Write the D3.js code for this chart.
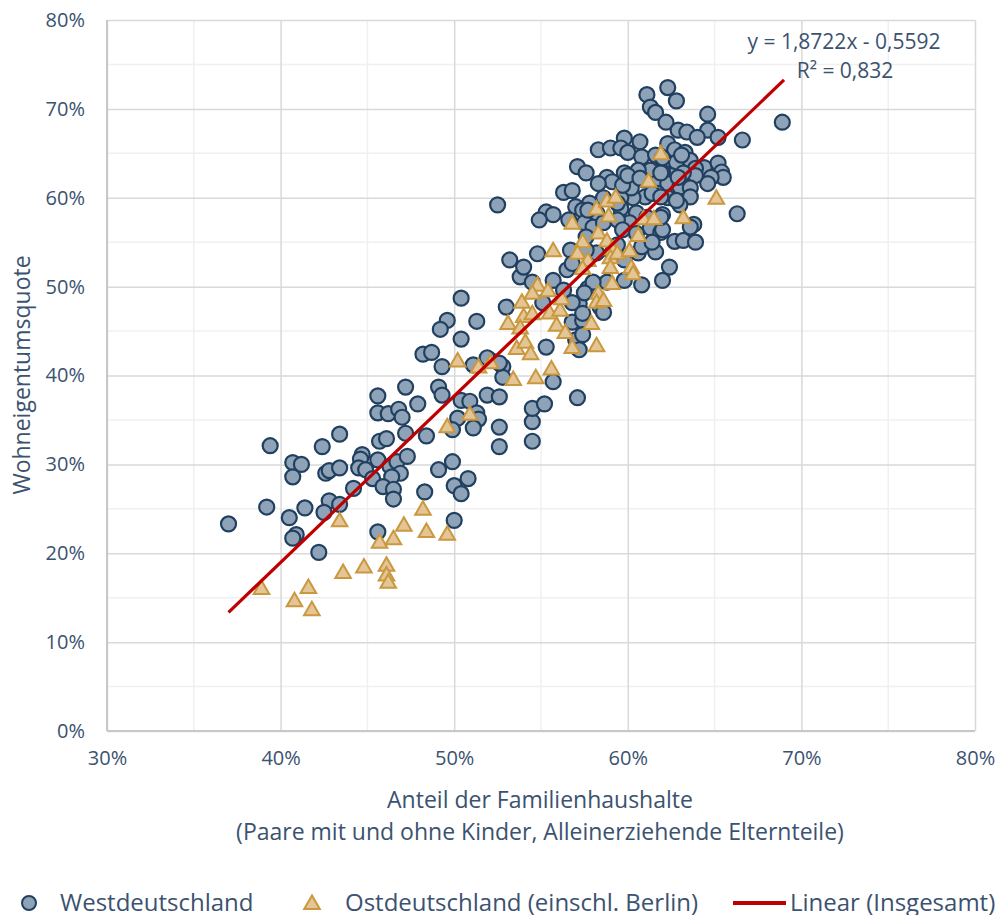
<!DOCTYPE html>
<html><head><meta charset="utf-8">
<script src="https://cdn.jsdelivr.net/npm/d3@7"></script>
<style>
html,body{margin:0;padding:0;background:#fff;}
svg text{font-family:"Open Sans",sans-serif;fill:#3b5270;}
</style></head>
<body>
<svg id="chart" width="995" height="915"></svg>
<script>
// Westdeutschland: [Anteil Familienhaushalte %, Wohneigentumsquote %]
const westPoints = [
[37.0,23.3],[39.2,25.2],[39.4,32.1],[40.7,30.2],[41.2,30.0],[40.7,28.6],[42.4,32.0],[43.4,33.4],[42.6,29.0],[42.8,29.3],
[43.4,29.6],[44.2,27.3],[42.8,25.9],[43.4,25.5],[41.4,25.1],[42.5,24.6],[40.5,24.0],[40.9,22.1],[40.7,21.7],[42.2,20.1],
[45.6,37.7],[47.2,38.7],[47.9,36.8],[45.6,35.8],[46.2,35.7],[46.8,36.2],[47.0,35.3],[45.7,32.6],[46.1,32.9],[47.2,33.5],
[48.4,33.2],[44.7,31.1],[44.6,30.6],[45.6,30.5],[44.5,29.6],[44.9,29.4],[46.3,29.8],[46.7,30.3],[47.3,30.9],[46.9,29.0],
[46.4,28.6],[45.3,28.4],[45.9,27.5],[46.5,27.2],[46.5,26.1],[48.3,26.9],[49.1,38.7],[49.3,37.8],[50.4,37.2],[50.9,37.1],
[51.9,37.8],[50.2,35.2],[51.3,35.8],[51.4,35.1],[51.1,34.1],[49.9,33.9],[49.9,30.3],[49.1,29.4],[50.0,27.6],[50.8,28.4],
[50.4,26.7],[50.0,23.7],[45.6,22.4],[52.6,34.2],[52.6,32.0],[50.4,48.7],[49.6,46.2],[49.2,45.2],[51.3,46.1],[50.4,44.1],
[48.2,42.4],[48.7,42.6],[49.3,41.0],[51.1,41.2],[52.1,41.7],[52.8,41.0],[52.8,39.8],[52.6,37.6],[54.5,32.6],[54.5,34.8],
[54.5,36.3],[55.2,36.8],[57.1,37.5],[55.7,39.3],[55.3,43.2],[57.1,43.1],[57.0,44.0],[53.0,47.7],[53.8,51.1],[54.0,52.2],
[54.5,50.5],[55.7,50.7],[56.5,51.9],[57.2,48.1],[56.8,46.0],[57.4,46.2],[53.2,53.0],[52.5,59.2],[57.1,63.5],[56.3,60.6],
[56.8,60.8],[57.0,59.0],[55.3,58.4],[55.7,58.1],[54.9,57.5],[56.6,57.5],[54.8,53.7],[56.7,54.1],[56.3,49.6],[55.1,48.2],
[56.8,48.2],[57.4,47.0],[57.4,44.6],[57.2,42.9],[58.4,47.7],[51.9,42.0],[52.6,41.4],[57.7,49.8],[58.6,47.1],
[62.3,72.4],[61.1,71.6],[62.8,70.9],[61.3,70.2],[61.6,69.6],[64.6,69.4],[62.2,68.5],[68.9,68.5],[62.9,67.6],[63.4,67.4],
[64.6,67.6],[59.8,66.7],[60.7,66.3],[64.0,66.8],[65.2,66.8],[66.6,66.5],[58.3,65.4],[59.0,65.6],[59.6,65.6],[60.0,65.1],
[60.8,64.6],[62.3,66.1],[62.7,65.4],[63.3,65.1],[61.6,64.8],[62.1,63.9],[62.8,64.0],[63.6,64.2],[64.4,63.4],[63.9,63.3],
[65.2,63.9],[65.4,62.9],[65.5,62.3],[64.8,62.3],[64.6,61.6],[63.9,62.5],[63.2,62.8],[62.5,62.5],[62.0,62.9],[61.3,63.1],
[60.6,63.1],[59.8,62.8],[58.8,62.3],[57.6,62.8],[59.1,61.8],[60.1,61.2],[60.9,62.0],[61.6,61.6],[62.3,61.6],[63.0,61.2],
[63.6,61.1],[63.6,60.1],[63.0,59.2],[62.3,60.0],[61.7,60.5],[61.0,60.1],[60.3,60.0],[59.6,60.0],[58.6,60.0],[57.8,59.4],
[57.4,58.6],[58.2,58.3],[59.6,58.8],[60.5,58.3],[61.1,57.8],[62.0,58.1],[63.8,57.0],[66.3,58.2],[57.5,57.2],[58.0,56.7],
[60.1,57.2],[61.3,56.6],[61.9,56.1],[62.7,55.1],[63.2,55.2],[63.9,55.0],[61.6,53.9],[60.6,53.8],[59.8,53.0],[59.1,53.8],
[58.2,53.8],[57.6,54.1],[62.4,52.2],[62.0,50.7],[60.8,50.2],[59.8,50.7],[58.8,50.5],[58.0,50.5],[57.5,49.3],[63.6,56.7],
[58.6,57.2],[59.4,57.5],[59.7,56.4],[60.5,56.0],[62.0,56.4],[61.9,57.8],[59.4,54.7],[60.8,54.5],[61.4,55.0],[57.6,55.6],
[56.8,52.6],[60.2,61.1],[61.4,60.5],[61.9,60.1],[62.8,59.7],[59.4,59.4],[57.7,58.6],[59.7,61.4],[58.3,61.6],[60.0,62.5],
[60.7,62.2],[61.9,62.8],[62.9,62.3],[62.0,64.5],[63.1,64.8]
];
// Ostdeutschland (einschl. Berlin)
const eastPoints = [
[38.9,16.1],[40.8,14.7],[41.6,16.2],[41.8,13.7],[43.4,23.7],[43.6,17.9],[44.8,18.5],[45.7,21.3],[46.5,21.7],[46.1,18.7],
[46.1,17.6],[46.2,16.8],[47.1,23.2],[48.2,25.0],[48.4,22.5],[49.6,22.2],[49.6,34.3],[50.9,35.7],[50.2,41.7],[51.4,41.0],
[52.1,41.5],[53.4,39.6],[54.7,39.8],[55.6,40.8],[53.1,45.9],[53.9,48.3],[54.0,46.7],[54.5,47.0],[53.8,45.4],[53.6,43.1],
[54.1,43.8],[54.4,42.5],[54.8,50.2],[55.4,49.6],[54.5,49.3],[55.5,47.1],[56.1,47.4],[56.2,48.7],[55.9,45.7],[56.4,44.9],
[56.8,43.2],[57.9,45.9],[58.2,43.4],[55.7,54.1],[56.8,57.2],[57.4,55.1],[57.1,53.8],[57.7,53.0],[57.4,52.1],[58.2,58.8],
[58.8,59.7],[59.3,60.1],[58.9,58.0],[58.3,56.1],[58.8,55.2],[59.1,54.3],[59.0,53.3],[59.4,53.8],[60.1,54.1],[59.0,52.2],
[60.2,52.2],[60.3,51.5],[60.6,55.8],[60.9,57.7],[61.5,57.7],[61.2,61.9],[61.9,65.0],[59.1,50.4],[58.3,49.3],[58.2,48.3],
[58.6,48.5],[63.2,57.8],[65.1,60.0]
];
// Lineare Trendlinie (Insgesamt)
const trendSlope = 1.8722, trendIntercept = -0.5592, trendR2 = 0.832;
const trendRange = [0.37, 0.69];
const xTicks = [0.3,0.4,0.5,0.6,0.7,0.8];
const yTicks = [0,0.1,0.2,0.3,0.4,0.5,0.6,0.7,0.8];
const xMinor = [0.35,0.45,0.55,0.65,0.75];
const yMinor = [0.05,0.15,0.25,0.35,0.45,0.55,0.65,0.75];
const xTitle = ["Anteil der Familienhaushalte","(Paare mit und ohne Kinder, Alleinerziehende Elternteile)"];
const yTitle = "Wohneigentumsquote";
const legendLabels = ["Westdeutschland","Ostdeutschland (einschl. Berlin)","Linear (Insgesamt)"];

const svg = d3.select("#chart");
const L=107, R=975, T=20, B=731;
const x = d3.scaleLinear().domain([0.3,0.8]).range([L,R]);
const y = d3.scaleLinear().domain([0,0.8]).range([B,T]);
const pct = d3.format(".0%");
const comma = s => s.replace(".",",");

// minor grid
svg.append("g").selectAll("line").data(xMinor).join("line")
  .attr("x1",d=>x(d)).attr("x2",d=>x(d)).attr("y1",T).attr("y2",B)
  .attr("stroke","#f0f0f0").attr("stroke-width",1.5);
svg.append("g").selectAll("line").data(yMinor).join("line")
  .attr("y1",d=>y(d)).attr("y2",d=>y(d)).attr("x1",L).attr("x2",R)
  .attr("stroke","#f0f0f0").attr("stroke-width",1.5);

// major grid via axes
const gx = svg.append("g").attr("transform",`translate(0,${B})`)
  .call(d3.axisBottom(x).tickValues(xTicks).tickFormat(pct).tickSize(-(B-T)).tickPadding(20));
const gy = svg.append("g").attr("transform",`translate(${L},0)`)
  .call(d3.axisLeft(y).tickValues(yTicks).tickFormat(pct).tickSize(-(R-L)).tickPadding(22));
[gx,gy].forEach(g=>{
  g.select(".domain").remove();
  g.selectAll(".tick line").attr("stroke","#d9d9d9").attr("stroke-width",1.5);
  g.selectAll(".tick text").style("font-size","20px").attr("fill","#3b5270");
});
gx.selectAll(".tick text").attr("dy","0.71em");
// axis lines
svg.append("line").attr("x1",L).attr("x2",L).attr("y1",T).attr("y2",B).attr("stroke","#c8c8c8").attr("stroke-width",2);
svg.append("line").attr("x1",L).attr("x2",R).attr("y1",B).attr("y2",B).attr("stroke","#c8c8c8").attr("stroke-width",2);

// West circles
svg.append("g").selectAll("circle").data(westPoints).join("circle")
  .attr("cx",d=>x(d[0]/100)).attr("cy",d=>y(d[1]/100)).attr("r",7.5)
  .attr("fill","#8ea3b8").attr("stroke","#213f5f").attr("stroke-width",2.2);

// East triangles
const tri = d3.symbol().type(d3.symbolTriangle).size(105);
svg.append("g").selectAll("path").data(eastPoints).join("path")
  .attr("d",tri).attr("transform",d=>`translate(${x(d[0]/100)},${y(d[1]/100)+1.5})`)
  .attr("fill","#e4c596").attr("stroke","#c9983f").attr("stroke-width",2);

// Trendline
svg.append("line")
  .attr("x1",x(trendRange[0])).attr("y1",y(trendSlope*trendRange[0]+trendIntercept))
  .attr("x2",x(trendRange[1])).attr("y2",y(trendSlope*trendRange[1]+trendIntercept))
  .attr("stroke","#c00000").attr("stroke-width",3.2);

// Equation
svg.append("text").attr("x",844).attr("y",49).attr("text-anchor","middle").style("font-size","21px")
  .text(`y = ${comma(trendSlope.toFixed(4))}x - ${comma(Math.abs(trendIntercept).toFixed(4))}`);
svg.append("text").attr("x",845).attr("y",78).attr("text-anchor","middle").style("font-size","21px")
  .text(`R² = ${comma(trendR2.toFixed(3))}`);

// Axis titles
svg.append("text").attr("x",540).attr("y",808).attr("text-anchor","middle").style("font-size","23px").text(xTitle[0]);
svg.append("text").attr("x",540).attr("y",840).attr("text-anchor","middle").style("font-size","23px").text(xTitle[1]);
svg.append("text").attr("transform","translate(30,375) rotate(-90)").attr("text-anchor","middle").style("font-size","23px").text(yTitle);

// Legend
const ly = 903;
svg.append("circle").attr("cx",29).attr("cy",ly).attr("r",7).attr("fill","#8ea3b8").attr("stroke","#213f5f").attr("stroke-width",2);
svg.append("text").attr("x",60).attr("y",ly+8).style("font-size","24px").text(legendLabels[0]);
svg.append("path").attr("d",tri).attr("transform",`translate(312,${ly+1.5})`).attr("fill","#e4c596").attr("stroke","#c9983f").attr("stroke-width",2);
svg.append("text").attr("x",345).attr("y",ly+8).style("font-size","24px").text(legendLabels[1]);
svg.append("line").attr("x1",733).attr("x2",786).attr("y1",ly).attr("y2",ly).attr("stroke","#c00000").attr("stroke-width",4);
svg.append("text").attr("x",790).attr("y",ly+8).style("font-size","24px").text(legendLabels[2]);
</script>
</body></html>
